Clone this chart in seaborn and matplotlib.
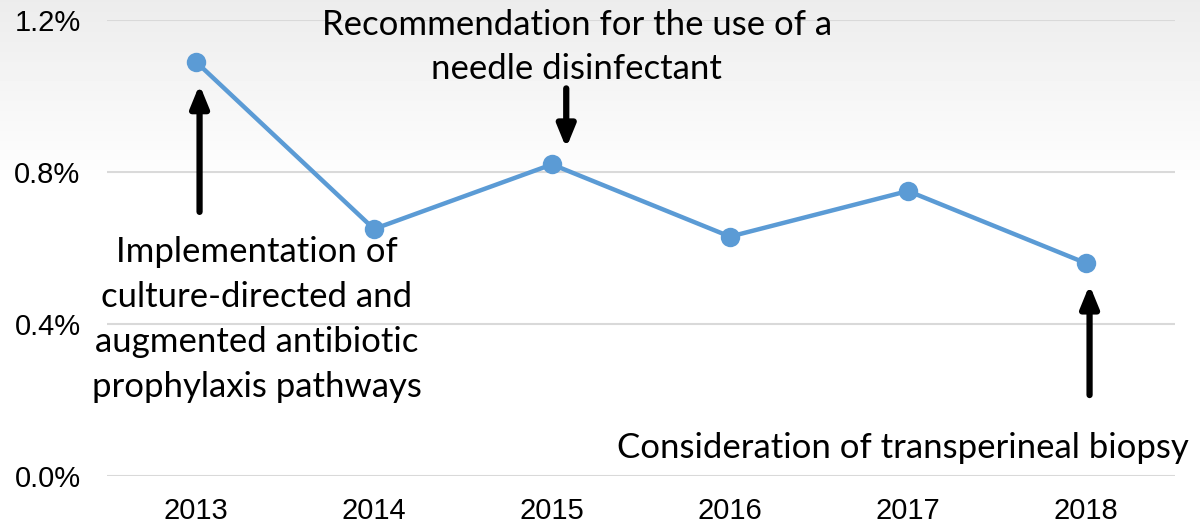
import numpy as np
import pandas as pd
import matplotlib
matplotlib.use("Agg")
import matplotlib.pyplot as plt
import seaborn as sns

# Infection rate by year
years = ["2013", "2014", "2015", "2016", "2017", "2018"]
rates = [1.09, 0.65, 0.82, 0.63, 0.75, 0.56]
y_ticks = [0.0, 0.4, 0.8, 1.2]
y_tick_labels = ["0.0%", "0.4%", "0.8%", "1.2%"]

df = pd.DataFrame({"year": years, "rate": rates})

sns.set_theme(style="white")
plt.rcParams["font.family"] = ["Liberation Sans", "DejaVu Sans"]

W, H = 1200, 527
fig = plt.figure(figsize=(W / 100, H / 100), dpi=100)

# soft grey-to-white backdrop across the top of the figure
bg = fig.add_axes([0, 0, 1, 1], zorder=-5)
rows = np.linspace(0, 1, H)
shade = np.where(rows < 0.36, 0.925 + (1 - 0.925) * rows / 0.36, 1.0)
grad = np.repeat(shade[:, None], 4, axis=1)
bg.imshow(grad, cmap="gray", vmin=0, vmax=1, aspect="auto", extent=[0, 1, 0, 1], origin="upper")
bg.set_axis_off()

left, right = 107 / W, 1175 / W
bottom, top = 1 - 476 / H, 1 - 20 / H
ax = fig.add_axes([left, bottom, right - left, top - bottom])
ax.patch.set_alpha(0)

sns.lineplot(data=df, x="year", y="rate", ax=ax, color="#5B9BD5", linewidth=3.2,
             marker="o", markersize=14, markeredgewidth=0, sort=False, zorder=3)

ax.set_xlim(-0.5, len(years) - 0.5)
ax.set_ylim(0, 1.2)
ax.set_yticks(y_ticks)
ax.set_yticklabels(y_tick_labels)
ax.set_xlabel("")
ax.set_ylabel("")
ax.tick_params(axis="both", length=0, labelsize=21, colors="black")
ax.tick_params(axis="y", pad=19)
ax.tick_params(axis="x", pad=15)
ax.yaxis.grid(True, color="#d9d9d9", linewidth=1.5)
ax.xaxis.grid(False)
for s in ax.spines.values():
    s.set_visible(False)

note_font = dict(family=["Lato", "DejaVu Sans"], fontsize=25, color="black",
                 ha="center", va="center")
arrow_style = dict(arrowstyle="-|>,head_width=0.45,head_length=1.1", color="black",
                   lw=4.5, shrinkA=0, shrinkB=0)

ax.annotate("", xy=(0.02, 1.03), xytext=(0.02, 0.695), arrowprops=arrow_style,
            annotation_clip=False)
ax.annotate("", xy=(2.08, 0.863), xytext=(2.08, 1.02), arrowprops=arrow_style,
            annotation_clip=False)
ax.annotate("", xy=(5.02, 0.503), xytext=(5.02, 0.213), arrowprops=arrow_style,
            annotation_clip=False)

ax.text(2.14, 1.129, "Recommendation for the use of a\nneedle disinfectant",
        clip_on=False, linespacing=1.44, **note_font)
ax.text(0.343, 0.413,
        "Implementation of\nculture-directed and\naugmented antibiotic\nprophylaxis pathways",
        clip_on=False, linespacing=1.5, **note_font)
ax.text(3.97, 0.074, "Consideration of transperineal biopsy", clip_on=False,
        **note_font)

fig.savefig("out.png", dpi=100)
